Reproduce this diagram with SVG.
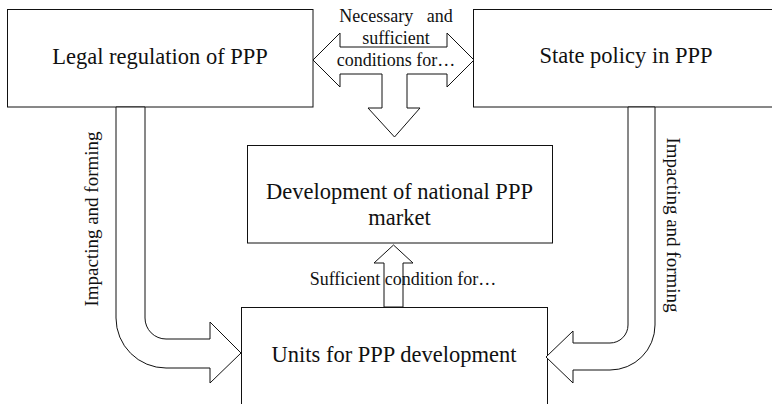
<svg xmlns="http://www.w3.org/2000/svg" width="772" height="404" viewBox="0 0 772 404">
  <style>
    .box { fill: #fff; stroke: #111; stroke-width: 1; }
    .arrow { fill: #fff; stroke: #111; stroke-width: 1; stroke-linejoin: miter; }
    text { font-family: "Liberation Serif", "Times New Roman", serif; fill: #111; }
    .main { font-size: 22.5px; text-anchor: middle; }
    .lbl { font-size: 18px; text-anchor: middle; }
    .vlbl { font-size: 19px; text-anchor: middle; }
  </style>
  <rect width="772" height="404" fill="#fff"/>

  <!-- nodes -->
  <g id="legal-regulation">
    <rect class="box" x="7.5" y="9.5" width="305.5" height="97.5"/>
    <text class="main" x="160" y="64">Legal regulation of PPP</text>
  </g>
  <g id="state-policy">
    <rect class="box" x="473.5" y="9.5" width="310" height="97.5"/>
    <text class="main" x="626" y="63">State policy in PPP</text>
  </g>
  <g id="national-market">
    <rect class="box" x="247.5" y="145.5" width="305" height="97.5"/>
    <text class="main" x="399.5" y="199">Development of national PPP</text>
    <text class="main" x="399.5" y="225">market</text>
  </g>
  <g id="ppp-units">
    <rect class="box" x="241.5" y="307.5" width="306" height="110"/>
    <text class="main" x="394" y="362">Units for PPP development</text>
  </g>

  <!-- connectors -->
  <g id="connectors">
    <!-- double-headed arrow between the top boxes, branching down -->
    <path class="arrow" d="M313,60 L340,33 L340,47 L447,47 L447,33 L474,60 L447,87 L447,74 L407,74 L407,108 L420,108 L394.5,137 L368,108 L382,108 L382,74 L340,74 L340,87 Z"/>
    <text class="lbl" x="396" y="22" word-spacing="9">Necessary and</text>
    <text class="lbl" x="396" y="44">sufficient</text>
    <text class="lbl" x="396" y="66">conditions for…</text>

    <!-- bent arrow from legal regulation to units -->
    <path class="arrow" d="M116,107 L145,107 L145,318 A21,21 0 0 0 166,339 L210,339 L210,322 L241,353 L210,383 L210,368 L166,368 A50,50 0 0 1 116,318 Z"/>
    <text class="vlbl" transform="translate(98,219) rotate(-90)">Impacting and forming</text>

    <!-- bent arrow from state policy to units -->
    <path class="arrow" d="M628,107 L655,107 L655,325 A45,45 0 0 1 610,370 L573,370 L573,383 L546,357 L573,331 L573,343 L610,343 A18,18 0 0 0 628,325 Z"/>
    <text class="vlbl" transform="translate(667,225) rotate(90)">Impacting and forming</text>

    <!-- upward arrow from units to market -->
    <path class="arrow" d="M384,307 L384,263 L374,263 L393.5,245 L413,263 L403,263 L403,307 Z"/>
    <text class="lbl" x="403" y="285" font-size="18.5">Sufficient condition for…</text>
  </g>
</svg>
